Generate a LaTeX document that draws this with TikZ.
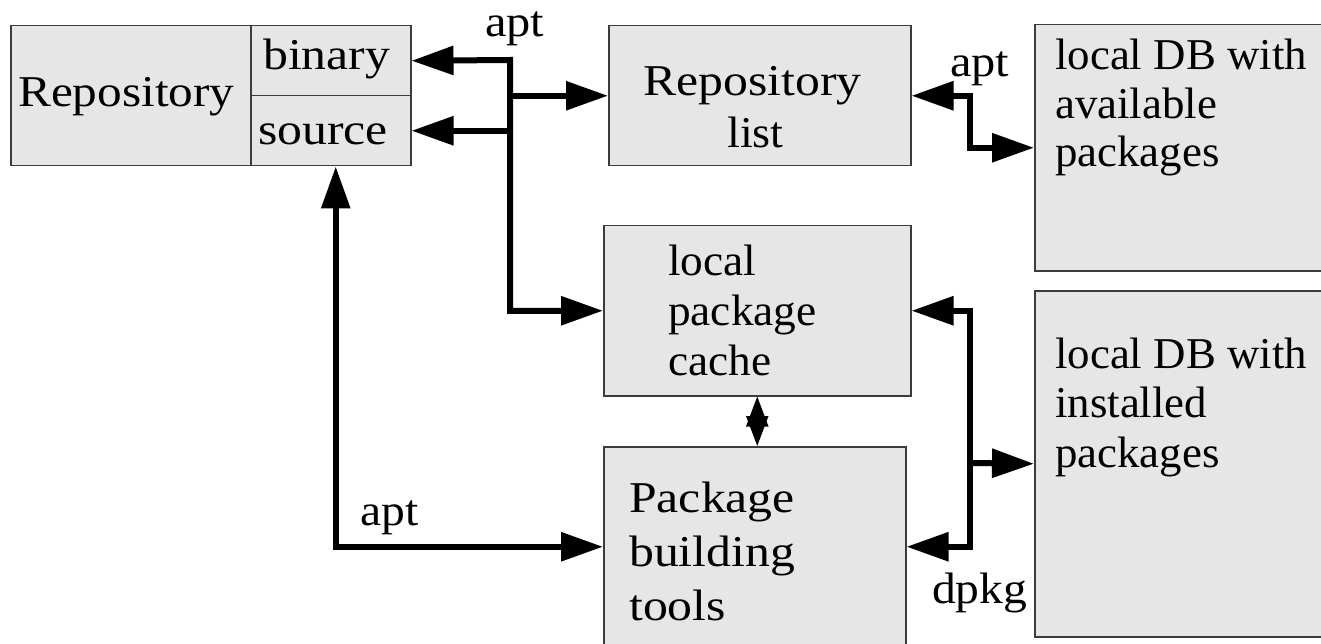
\documentclass[tikz,border=0pt]{standalone}
\usepackage{fontspec}
\setmainfont{Liberation Serif}
\usetikzlibrary{arrows.meta}
\definecolor{boxfill}{HTML}{E6E6E6}
\definecolor{boxline}{HTML}{3C3C3C}
\newcommand\txtlines[3]{\scalebox{#1}[1]{\vtop{\baselineskip=#2\lineskiplimit=-200pt\lineskip=0pt\halign{##\hfil\cr#3\crcr}}}}
\tikzset{
  box/.style={draw=boxline, fill=boxfill, line width=1.5pt, inner sep=0pt, anchor=north west},
  txt/.style={inner sep=0pt, anchor=base west, font=\fontsize{44}{48}\selectfont},
  conn/.style={line width=6pt, line join=miter},
  onehead/.style={conn, -{Triangle[length=42pt,width=28pt]}},
  twoheads/.style={conn, {Triangle[length=42pt,width=28pt]}-{Triangle[length=42pt,width=28pt]}},
  smallheads/.style={line width=2pt, {Triangle[length=30pt,width=22pt]}-{Triangle[length=30pt,width=22pt]}}
}
\begin{document}
\begin{tikzpicture}[x=1pt,y=-1pt]
\path[fill=white,use as bounding box] (0,0) rectangle (1321,644);
% boxes
\node[box, minimum width=240pt, minimum height=140pt] (repo) at (10,25) {};
\node[box, minimum width=160pt, minimum height=70pt] (binary) at (250,25) {};
\node[box, minimum width=160pt, minimum height=70pt] (source) at (250,95) {};
\node[box, minimum width=302pt, minimum height=140pt] (rlist) at (608,25) {};
\node[box, minimum width=300pt, minimum height=246pt] (avail) at (1034,24) {};
\node[box, minimum width=307pt, minimum height=170pt] (cache) at (603,225) {};
\node[box, minimum width=302pt, minimum height=200pt] (build) at (603,446) {};
\node[box, minimum width=300pt, minimum height=346pt] (inst) at (1034,290) {};
% texts
\node[txt] (repotxt) at (18,107) {\scalebox{1.12}[1]{Repository}};
\node[txt] (bintxt) at (263,70) {\scalebox{1.13}[1]{binary}};
\node[txt] (srctxt) at (258,145) {\scalebox{1.13}[1]{source}};
\node[txt] (rltxt1) at (643,96) {\scalebox{1.13}[1]{Repository}};
\node[txt] (rltxt2) at (727,148) {\scalebox{1.05}[1]{list}};
\node[txt] (availtxt) at (1055,70) {\txtlines{1.02}{48.5pt}{local DB with\cr available\cr packages}};
\node[txt] (insttxt) at (1055,368) {\txtlines{1.02}{49.5pt}{local DB with\cr installed\cr packages}};
\node[txt] (cachetxt) at (668,275) {\txtlines{1.03}{50pt}{local\cr package\cr cache}};
\node[txt] (buildtxt) at (629,512) {\txtlines{1.13}{54pt}{Package\cr building\cr tools}};
% labels
\node[txt] (apt1) at (485,37) {\scalebox{1.1}[1]{apt}};
\node[txt] (apt2) at (950,77) {\scalebox{1.1}[1]{apt}};
\node[txt] (apt3) at (360,525) {\scalebox{1.08}[1]{apt}};
\node[txt] (dpkg) at (932,603) {\scalebox{1.08}[1]{dpkg}};
% junctions
\coordinate (t1) at (510,60);
\coordinate (ak) at (970,120);
\coordinate (dk) at (970,463);
% connectors
\draw[twoheads] (binary.east) -- (t1) |- (cache.west);
\draw[onehead] (t1|-source.east) -- (source.east);
\draw[onehead] (t1|-rlist.west) -- (rlist.west);
\draw[twoheads] (rlist.east) -| (ak) |- (avail.west);
\draw[twoheads] (cache.east) -| (dk) |- (build.east);
\draw[onehead] (dk) -- (inst.west);
\draw[twoheads] ([xshift=5pt]source.south) |- (build.west);
\draw[smallheads] (cache.south) -- (cache.south|-build.north);
\end{tikzpicture}
\end{document}
